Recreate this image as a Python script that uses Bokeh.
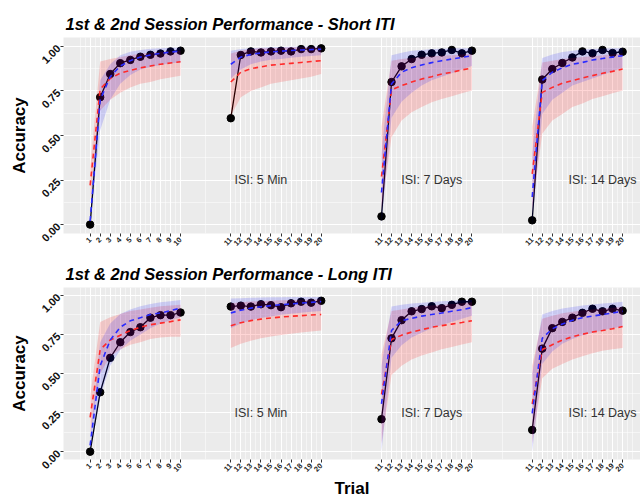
import math
from bokeh.plotting import figure
from bokeh.layouts import column
from bokeh.models import Range1d, FixedTicker
from bokeh.embed import file_html
from bokeh.resources import INLINE
from bokeh.core.properties import value

# ---------------- data ----------------
trial_labels = [str(t) for t in range(1, 11)] + [str(t) for t in range(11, 21)] * 3
group_names = ["Session 1", "ISI: 5 Min", "ISI: 7 Days", "ISI: 14 Days"]
y_ticks = [0, 0.25, 0.5, 0.75, 1.0]
y_tick_labels = ["0.00", "0.25", "0.50", "0.75", "1.00"]
titles = ["1st & 2nd Session Performance - Short ITI",
          "1st & 2nd Session Performance - Long ITI"]

# Short ITI (4 groups x 10 trials)
short_obs = [0.00, 0.715, 0.845, 0.906, 0.924, 0.942, 0.953, 0.960, 0.972, 0.976,
             0.597, 0.952, 0.972, 0.966, 0.972, 0.976, 0.972, 0.985, 0.985, 0.989,
             0.046, 0.800, 0.888, 0.929, 0.953, 0.961, 0.966, 0.980, 0.961, 0.976,
             0.024, 0.814, 0.873, 0.907, 0.938, 0.972, 0.961, 0.980, 0.963, 0.970]
short_blue_fit = [0.02, 0.70, 0.83, 0.89, 0.92, 0.94, 0.952, 0.961, 0.968, 0.974,
                  0.90, 0.94, 0.955, 0.963, 0.969, 0.973, 0.977, 0.980, 0.982, 0.984,
                  0.18, 0.79, 0.855, 0.88, 0.896, 0.909, 0.92, 0.929, 0.938, 0.948,
                  0.155, 0.808, 0.855, 0.88, 0.90, 0.91, 0.924, 0.932, 0.94, 0.948]
short_blue_lo = [0.00, 0.53, 0.70, 0.79, 0.84, 0.87, 0.885, 0.895, 0.905, 0.91,
                 0.82, 0.87, 0.90, 0.915, 0.925, 0.93, 0.937, 0.942, 0.946, 0.95,
                 0.00, 0.60, 0.69, 0.74, 0.78, 0.81, 0.83, 0.85, 0.87, 0.89,
                 0.00, 0.62, 0.70, 0.74, 0.78, 0.80, 0.82, 0.84, 0.86, 0.88]
short_blue_hi = [0.05, 0.81, 0.90, 0.95, 0.97, 0.98, 0.987, 0.99, 0.993, 0.994,
                 0.975, 0.985, 0.99, 0.993, 0.995, 0.997, 0.998, 0.999, 1.0, 1.0,
                 0.40, 0.95, 0.965, 0.975, 0.98, 0.985, 0.987, 0.99, 0.99, 0.99,
                 0.40, 0.935, 0.955, 0.968, 0.976, 0.982, 0.986, 0.988, 0.99, 0.99]
short_red_fit = [0.22, 0.76, 0.82, 0.85, 0.865, 0.88, 0.89, 0.90, 0.907, 0.914,
                 0.80, 0.855, 0.875, 0.885, 0.895, 0.90, 0.905, 0.91, 0.915, 0.92,
                 0.27, 0.756, 0.78, 0.80, 0.817, 0.83, 0.845, 0.855, 0.868, 0.879,
                 0.285, 0.742, 0.77, 0.793, 0.808, 0.823, 0.836, 0.849, 0.86, 0.873]
short_red_lo = [0.12, 0.64, 0.70, 0.74, 0.77, 0.79, 0.80, 0.815, 0.825, 0.836,
                0.61, 0.714, 0.75, 0.77, 0.79, 0.80, 0.81, 0.82, 0.83, 0.845,
                0.08, 0.49, 0.584, 0.63, 0.66, 0.686, 0.705, 0.72, 0.737, 0.752,
                0.08, 0.51, 0.584, 0.62, 0.66, 0.68, 0.705, 0.72, 0.737, 0.752]
short_red_hi = [0.32, 0.916, 0.93, 0.94, 0.95, 0.96, 0.965, 0.97, 0.973, 0.976,
                0.96, 0.975, 0.985, 0.99, 0.99, 0.993, 0.995, 0.995, 0.995, 0.995,
                0.55, 0.92, 0.93, 0.935, 0.94, 0.945, 0.948, 0.951, 0.954, 0.957,
                0.55, 0.91, 0.92, 0.93, 0.935, 0.94, 0.945, 0.95, 0.955, 0.96]

# Long ITI
long_obs = [0.00, 0.38, 0.60, 0.70, 0.765, 0.796, 0.857, 0.873, 0.873, 0.89,
            0.928, 0.934, 0.928, 0.943, 0.937, 0.924, 0.949, 0.959, 0.953, 0.965,
            0.208, 0.725, 0.841, 0.898, 0.912, 0.93, 0.918, 0.939, 0.959, 0.959,
            0.139, 0.659, 0.79, 0.83, 0.857, 0.888, 0.914, 0.898, 0.914, 0.902]
long_blue_fit = [0.04, 0.55, 0.714, 0.796, 0.837, 0.857, 0.877, 0.887, 0.902, 0.918,
                 0.887, 0.905, 0.918, 0.927, 0.934, 0.94, 0.945, 0.95, 0.955, 0.96,
                 0.306, 0.775, 0.837, 0.853, 0.867, 0.877, 0.887, 0.898, 0.908, 0.922,
                 0.245, 0.725, 0.786, 0.816, 0.841, 0.857, 0.867, 0.877, 0.887, 0.898]
long_blue_lo = [0.00, 0.35, 0.55, 0.65, 0.71, 0.75, 0.79, 0.82, 0.84, 0.86,
                0.79, 0.82, 0.84, 0.855, 0.865, 0.875, 0.882, 0.889, 0.895, 0.90,
                0.00, 0.60, 0.68, 0.73, 0.76, 0.79, 0.81, 0.83, 0.85, 0.87,
                0.00, 0.56, 0.64, 0.69, 0.72, 0.745, 0.76, 0.775, 0.79, 0.80]
long_blue_hi = [0.10, 0.70, 0.82, 0.88, 0.91, 0.93, 0.945, 0.955, 0.962, 0.97,
                0.98, 0.982, 0.984, 0.986, 0.987, 0.988, 0.989, 0.99, 0.99, 0.99,
                0.55, 0.928, 0.94, 0.948, 0.953, 0.958, 0.962, 0.965, 0.968, 0.97,
                0.50, 0.877, 0.90, 0.915, 0.925, 0.935, 0.942, 0.948, 0.953, 0.959]
long_red_fit = [0.22, 0.653, 0.714, 0.745, 0.775, 0.796, 0.812, 0.822, 0.832, 0.843,
                0.806, 0.825, 0.838, 0.848, 0.855, 0.861, 0.866, 0.870, 0.874, 0.877,
                0.367, 0.718, 0.745, 0.765, 0.78, 0.796, 0.806, 0.816, 0.826, 0.837,
                0.306, 0.653, 0.684, 0.714, 0.735, 0.751, 0.765, 0.775, 0.786, 0.80]
long_red_lo = [0.10, 0.50, 0.61, 0.653, 0.684, 0.70, 0.72, 0.73, 0.735, 0.735,
               0.663, 0.69, 0.71, 0.725, 0.737, 0.747, 0.755, 0.762, 0.769, 0.775,
               0.05, 0.49, 0.55, 0.59, 0.615, 0.635, 0.655, 0.67, 0.685, 0.70,
               0.05, 0.47, 0.53, 0.56, 0.59, 0.61, 0.63, 0.645, 0.655, 0.663]
long_red_hi = [0.35, 0.83, 0.86, 0.88, 0.90, 0.91, 0.92, 0.93, 0.935, 0.94,
               0.95, 0.955, 0.96, 0.963, 0.966, 0.968, 0.97, 0.972, 0.974, 0.975,
               0.62, 0.90, 0.91, 0.92, 0.93, 0.935, 0.94, 0.945, 0.95, 0.955,
               0.55, 0.85, 0.87, 0.885, 0.895, 0.905, 0.91, 0.915, 0.92, 0.925]

# ---------------- layout helpers ----------------
group_start = [1, 15, 30, 45]          # axis position of each group's first trial
label_pos = [18, 35, 52]               # axis position of the ISI annotations
n_per_group = 10
x_pos = [g + i for g in group_start for i in range(n_per_group)]

FONT = "Liberation Sans"
BG = "#EBEBEB"

# grid lines as in ggplot: majors at ticks, minors midway
ext = [x_pos[0] - 1] + x_pos + [x_pos[-1] + 1]
x_minor = [(a + b) / 2 for a, b in zip(ext[:-1], ext[1:])] + [ext[0], ext[-1]]
y_minor = [(a + b) / 2 for a, b in zip(y_ticks[:-1], y_ticks[1:])]


def panel(title, series, height, top, bottom, xlabel):
    obs, bfit, blo, bhi, rfit, rlo, rhi = series
    p = figure(width=640, height=height,
               x_range=Range1d(-1.65, 55.78), y_range=Range1d(-0.05, 1.05),
               output_backend="svg", toolbar_location=None,
               background_fill_color=BG, border_fill_color="white",
               outline_line_color=None,
               min_border_left=63, min_border_right=0,
               min_border_top=top, min_border_bottom=bottom)
    p.title.text = title
    p.title.text_font = FONT
    p.title.text_font_style = "bold italic"
    p.title.text_font_size = "16.5px"
    p.title.text_color = "black"
    p.title.align = "left"
    p.title.offset = 2
    p.title.standoff = 9

    for g in range(len(group_start)):
        s = slice(g * n_per_group, (g + 1) * n_per_group)
        xs = x_pos[s]
        p.line(xs, obs[s], line_color="black", line_width=1.3)
        p.scatter(xs, obs[s], size=7.5, fill_color="black", line_color="black")
        p.varea(x=xs, y1=rlo[s], y2=rhi[s], fill_color="red", fill_alpha=0.16)
        p.varea(x=xs, y1=blo[s], y2=bhi[s], fill_color="blue", fill_alpha=0.15)
        p.line(xs, rfit[s], line_color="#FF2A2A", line_width=1.6, line_dash="5 4")
        p.line(xs, bfit[s], line_color="#2A2AFF", line_width=1.6, line_dash="5 4")

    p.text(x=label_pos, y=[0.25] * len(label_pos), text=group_names[1:],
           text_font=value(FONT), text_font_size="12.5px", text_color="#333333",
           text_align="center", text_baseline="middle")

    # grid
    p.xgrid.ticker = FixedTicker(ticks=x_pos, minor_ticks=x_minor)
    p.ygrid.ticker = FixedTicker(ticks=y_ticks, minor_ticks=y_minor)
    for gr in (p.xgrid, p.ygrid):
        gr.grid_line_color = "white"
        gr.grid_line_width = 1.1
        gr.minor_grid_line_color = "white"
        gr.minor_grid_line_width = 0.5

    # axes
    p.xaxis.ticker = FixedTicker(ticks=x_pos)
    p.xaxis.major_label_overrides = {x: l for x, l in zip(x_pos, trial_labels)}
    p.yaxis.ticker = FixedTicker(ticks=y_ticks)
    p.yaxis.major_label_overrides = {y: l for y, l in zip(y_ticks, y_tick_labels)}
    for ax in (p.xaxis[0], p.yaxis[0]):
        ax.axis_line_color = None
        ax.major_tick_line_color = "#333333"
        ax.major_tick_out = 3
        ax.major_tick_in = 0
        ax.minor_tick_line_color = None
        ax.major_label_orientation = math.pi / 4
        ax.major_label_text_font = FONT
        ax.major_label_text_font_style = "bold"
        ax.axis_label_text_font = FONT
        ax.axis_label_text_font_style = "bold"
        ax.axis_label_text_font_size = "17px"
        ax.axis_label_text_color = "black"
    p.xaxis.major_label_text_font_size = "7.5px"
    p.xaxis.major_label_text_color = "#262626"
    p.xaxis.major_label_standoff = 2
    p.yaxis.major_label_text_font_size = "11px"
    p.yaxis.major_label_text_color = "#111111"
    p.yaxis.major_label_standoff = 2
    p.yaxis.axis_label = "Accuracy"
    p.yaxis.axis_label_standoff = 6
    if xlabel:
        p.xaxis.axis_label = xlabel
        p.xaxis.axis_label_standoff = 2
    return p


p1 = panel(titles[0], (short_obs, short_blue_fit, short_blue_lo, short_blue_hi,
                       short_red_fit, short_red_lo, short_red_hi),
           250, 37, 17, None)
p2 = panel(titles[1], (long_obs, long_blue_fit, long_blue_lo, long_blue_hi,
                       long_red_fit, long_red_lo, long_red_hi),
           250, 37, 35, "Trial")

layout = column(p1, p2, spacing=0)
open("out.html", "w").write(file_html(layout, INLINE))
